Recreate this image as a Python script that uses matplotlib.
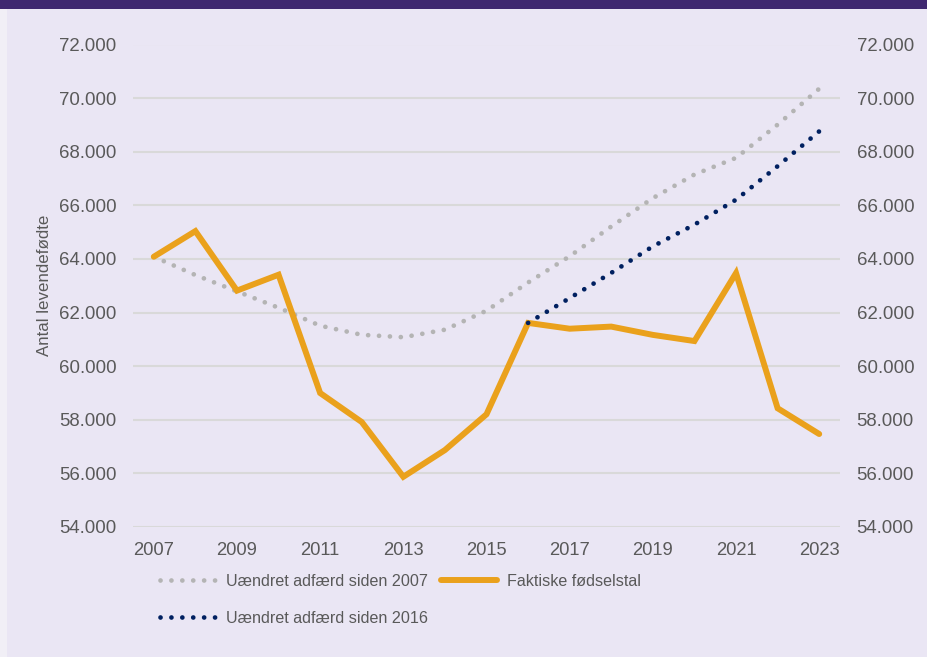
import numpy as np
import matplotlib.pyplot as plt
from matplotlib.patches import Rectangle

# Data
years = np.arange(2007, 2024)
faktiske = [64082, 65038, 62818, 63411, 58998, 57916, 55873, 56870, 58205,
            61614, 61397, 61476, 61167, 60937, 63473, 58430, 57469]
uaendret_2007 = [64082, 63400, 62790, 62180, 61510, 61170, 61080, 61360, 62070,
                 63120, 64100, 65210, 66270, 67150, 67770, 69010, 70350]
years_2016 = np.arange(2016, 2024)
uaendret_2016 = [61614, 62540, 63480, 64470, 65280, 66210, 67460, 68760]

yticks = np.arange(54000, 72001, 2000)
xticks = np.arange(2007, 2024, 2)

bg = '#EAE6F4'
txt = '#595959'
grey = '#B4B4B4'
navy = '#002060'
orange = '#EAA11C'

plt.rcParams['font.family'] = ['Liberation Sans', 'DejaVu Sans']

fig = plt.figure(figsize=(9.27, 6.57), dpi=100)
fig.patch.set_facecolor('#F1EFF6')
fig.patches.append(Rectangle((7 / 927, 0), 1, 1, transform=fig.transFigure,
                             facecolor=bg, edgecolor='none', zorder=0))
fig.patches.append(Rectangle((0, 1 - 9 / 657), 1, 9 / 657, transform=fig.transFigure,
                             facecolor='#3F2870', edgecolor='none', zorder=1))

ax = fig.add_axes([133 / 927, 1 - 527 / 657, (840 - 133) / 927, (527 - 44.5) / 657])
ax.set_zorder(3)
ax.patch.set_alpha(0)

dots = (0, (0.01, 2.3))
l1, = ax.plot(years, uaendret_2007, color=grey, lw=3.4, linestyle=dots,
              dash_capstyle='round', label='Uændret adfærd siden 2007', zorder=3)
l2, = ax.plot(years, faktiske, color=orange, lw=4.3, solid_joinstyle='miter',
              solid_capstyle='round', label='Faktiske fødselstal', zorder=4)
l3, = ax.plot(years_2016, uaendret_2016, color=navy, lw=3.4, linestyle=dots,
              dash_capstyle='round', label='Uændret adfærd siden 2016', zorder=5)

ax.set_xlim(2006.5, 2023.5)
ax.set_ylim(54000, 72000)
ax.set_yticks(yticks)
ax.set_yticklabels([f'{v:,}'.replace(',', '.') for v in yticks])
ax.set_xticks(xticks)
ax.set_xticklabels([str(x) for x in xticks])
ax.grid(axis='y', color='#D9D9D9', lw=1.5)
ax.set_axisbelow(True)
for s in ax.spines.values():
    s.set_visible(False)
ax.tick_params(axis='y', length=0, labelsize=13.4, colors=txt, pad=12)
ax.tick_params(axis='x', length=0, labelsize=13.2, colors=txt, pad=11)
ax.tick_params(axis='y', labelright=True)
ax.set_ylabel('Antal levendefødte', fontsize=12.2, color=txt)
ax.yaxis.set_label_coords(-0.1146, 0.5)

leg = fig.legend([l1, l3, l2], [l1.get_label(), l3.get_label(), l2.get_label()],
                 ncol=2, loc='upper left', bbox_to_anchor=(160 / 927, 1 - 574 / 657),
                 frameon=False, fontsize=11.6, labelcolor=txt, handlelength=3.5,
                 handletextpad=0.6, columnspacing=0.8, labelspacing=1.35, borderpad=0,
                 borderaxespad=0)

fig.savefig('out.png', dpi=100, facecolor=fig.get_facecolor())
